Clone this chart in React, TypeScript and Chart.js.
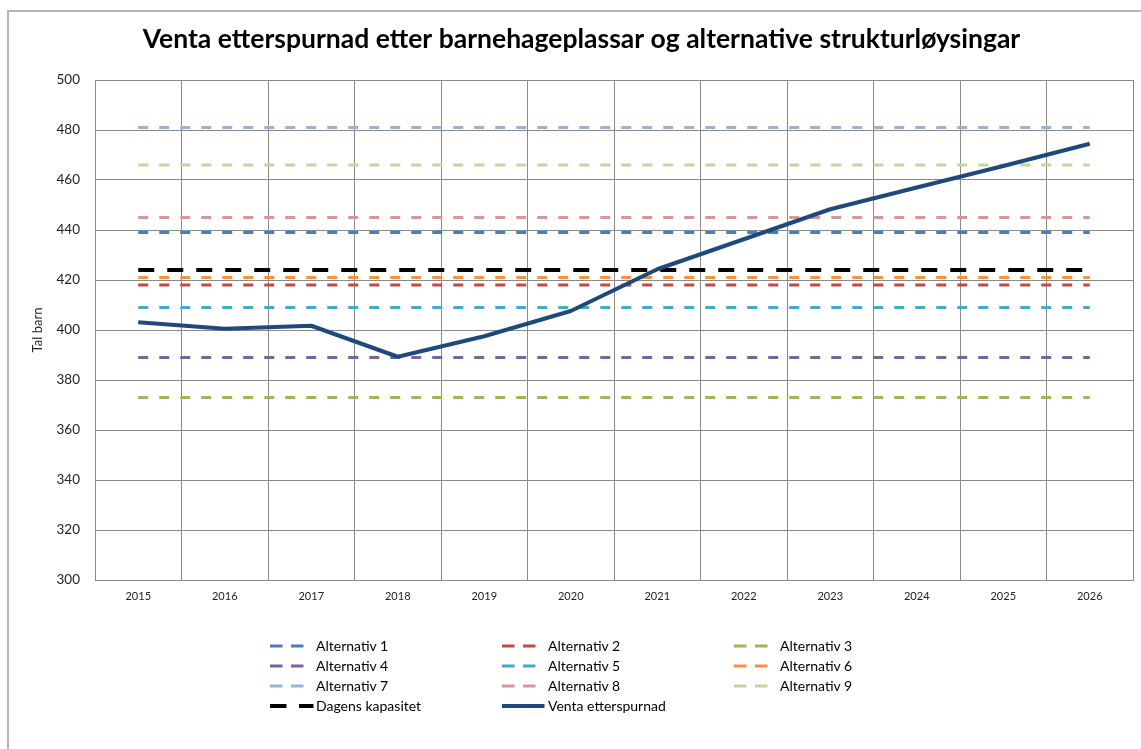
import React, { useEffect, useRef } from "react";
import { Chart, registerables } from "chart.js";

Chart.register(...registerables);

const years = ["2015", "2016", "2017", "2018", "2019", "2020", "2021", "2022", "2023", "2024", "2025", "2026"];
const expectedDemand = [403.1, 400.5, 401.7, 389.3, 397.5, 407.6, 424.3, 436.3, 448.3, 457.0, 465.6, 474.5];
const alternativeNames = [
  "Alternativ 1", "Alternativ 2", "Alternativ 3",
  "Alternativ 4", "Alternativ 5", "Alternativ 6",
  "Alternativ 7", "Alternativ 8", "Alternativ 9",
];
const alternativeCapacities = [439, 418, 373, 389, 409, 421, 481, 445, 466];
const alternativeColors = [
  "#4A7EBB", "#BE4B48", "#98B954",
  "#7D60A0", "#46AAC5", "#F69240",
  "#95B3D7", "#D99694", "#C3D69B",
];
const currentCapacity = 424;
const currentCapacityLabel = "Dagens kapasitet";
const demandLabel = "Venta etterspurnad";
const demandColor = "#1F497D";
const titleText = "Venta etterspurnad etter barnehageplassar og alternative strukturløysingar";
const yTitle = "Tal barn";
const yMin = 300;
const yMax = 500;
const yStep = 20;

const FONT = "Lato, 'DejaVu Sans', sans-serif";
const GRID = "#8a8a8a";

type LegendItem = { label: string; color: string; kind: "alt" | "cap" | "demand" };

const legendItems: LegendItem[] = [
  ...alternativeNames.map((n, i) => ({ label: n, color: alternativeColors[i], kind: "alt" as const })),
  { label: currentCapacityLabel, color: "#000000", kind: "cap" },
  { label: demandLabel, color: demandColor, kind: "demand" },
];

const legendColX = [316, 548, 780];
const legendRowY = [646, 666, 686, 706];

export default function App() {
  const ref = useRef<HTMLCanvasElement | null>(null);

  useEffect(() => {
    if (!ref.current) return;
    const datasets: any[] = alternativeCapacities.map((v, i) => ({
      label: alternativeNames[i],
      data: years.map(() => v),
      borderColor: alternativeColors[i],
      backgroundColor: alternativeColors[i],
      borderWidth: 3,
      borderDash: [10, 11],
      borderCapStyle: "butt",
      pointRadius: 0,
      fill: false,
      order: 2,
    }));
    datasets.push({
      label: currentCapacityLabel,
      data: years.map(() => currentCapacity),
      borderColor: "#000000",
      backgroundColor: "#000000",
      borderWidth: 4.2,
      borderDash: [16, 13],
      borderCapStyle: "butt",
      pointRadius: 0,
      fill: false,
      order: 1,
    });
    datasets.push({
      label: demandLabel,
      data: expectedDemand,
      borderColor: demandColor,
      backgroundColor: demandColor,
      borderWidth: 4,
      borderJoinStyle: "round",
      pointRadius: 0,
      fill: false,
      tension: 0,
      order: 0,
    });

    const chart = new Chart(ref.current, {
      type: "line",
      data: { labels: years, datasets },
      options: {
        responsive: false,
        animation: false,
        devicePixelRatio: 1,
        layout: { padding: { left: 30, right: 8, top: 0, bottom: 139 } },
        plugins: {
          legend: { display: false },
          tooltip: { enabled: false },
          title: {
            display: true,
            text: titleText,
            color: "#000000",
            font: { family: FONT, size: 26.5, weight: "bold", lineHeight: 1.2 },
            padding: { top: 24, bottom: 24.2 },
          },
        },
        scales: {
          x: {
            type: "category",
            offset: true,
            grid: { offset: true, color: GRID, lineWidth: 1, drawTicks: false },
            border: { color: GRID, width: 1 },
            ticks: { color: "#222222", font: { family: FONT, size: 11 }, padding: 10, autoSkip: false, maxRotation: 0 },
            afterFit: (s: any) => { s.height = 30; },
          },
          y: {
            min: yMin,
            max: yMax,
            grid: { color: GRID, lineWidth: 1, drawTicks: false },
            border: { color: GRID, width: 1 },
            ticks: { stepSize: yStep, color: "#222222", font: { family: FONT, size: 13.5 }, padding: 15 },
            title: {
              display: true,
              text: yTitle,
              color: "#222222",
              font: { family: FONT, size: 13, lineHeight: 1.2 },
              padding: { top: 0, bottom: 0 },
            },
            afterFit: (s: any) => { s.width = 65; },
          },
        },
      },
    });
    return () => chart.destroy();
  }, []);

  return (
    <div style={{ position: "fixed", left: 0, top: 0, width: 1141, height: 749, overflow: "hidden", background: "#fff" }}>
      <div style={{ position: "absolute", left: 7, top: 10, width: 1300, height: 900, border: "2px solid #b5b5b5", boxSizing: "border-box" }} />
      <canvas ref={ref} width={1141} height={749} style={{ position: "absolute", left: 0, top: 0, width: 1141, height: 749 }} />
      {legendItems.map((it, i) => {
        const col = i % 3;
        const row = Math.floor(i / 3);
        const tx = legendColX[col];
        const cy = legendRowY[row];
        let swatch: React.ReactNode;
        if (it.kind === "alt") {
          swatch = <line x1={0} y1={10} x2={33.5} y2={10} stroke={it.color} strokeWidth={3} strokeDasharray="12.5 8.5" />;
        } else if (it.kind === "cap") {
          swatch = <line x1={0} y1={10} x2={43.5} y2={10} stroke={it.color} strokeWidth={4.2} strokeDasharray="16.5 12.5" />;
        } else {
          swatch = <line x1={0} y1={10} x2={42.5} y2={10} stroke={it.color} strokeWidth={4} />;
        }
        return (
          <div key={i} style={{ position: "absolute", left: tx - 46, top: cy - 10, height: 20, display: "flex", alignItems: "center" }}>
            <svg width={46} height={20} style={{ display: "block", flex: "none" }}>{swatch}</svg>
            <span style={{ fontFamily: FONT, fontSize: 14, lineHeight: "20px", color: "#000", whiteSpace: "nowrap" }}>{it.label}</span>
          </div>
        );
      })}
    </div>
  );
}
